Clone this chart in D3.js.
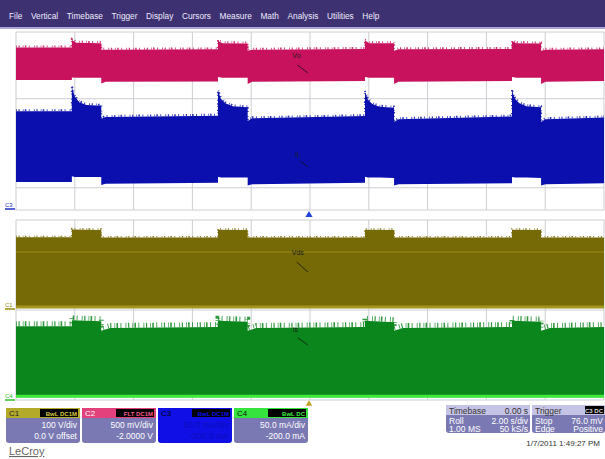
<!DOCTYPE html>
<html>
<head>
<meta charset="utf-8">
<script src="https://cdn.jsdelivr.net/npm/d3@7"></script>
<style>
  body { margin: 0; background: #fff; }
  svg { display: block; font-family: "Liberation Sans", Arial, sans-serif; }
</style>
</head>
<body>
<svg id="scope" width="605" height="459"></svg>
<script>
const menuItems = ['File', 'Vertical', 'Timebase', 'Trigger', 'Display', 'Cursors', 'Measure', 'Math', 'Analysis', 'Utilities', 'Help'];

// timebase 2.00 s/div, 10 divisions, trigger at 0
const timeTicks = [-10, -8, -6, -4, -2, 0, 2, 4, 6, 8, 10];
const divTicks = [-4, -3, -2, -1, 0, 1, 2, 3, 4];

// C2 (red) volts
const c2T  = [-10, -8.1, -8.1, -7.95, -7.1, -7.1, -6.95, -3.13, -3.13, -2.98, -2.12, -2.12, -1.97, 1.87, 1.87, 2.02, 2.86, 2.86, 3.01, 6.87, 6.87, 7.02, 7.86, 7.86, 8.01, 10];
const c2Hi = [3.65, 3.65, 3.82, 3.76, 3.75, 3.60, 3.60, 3.61, 3.80, 3.75, 3.74, 3.58, 3.60, 3.62, 3.81, 3.75, 3.75, 3.58, 3.61, 3.62, 3.80, 3.75, 3.74, 3.58, 3.60, 3.61];
const c2Lo = [2.92, 2.92, 2.98, 2.97, 2.97, 2.84, 2.88, 2.89, 2.99, 2.97, 2.97, 2.83, 2.88, 2.90, 2.99, 2.97, 2.97, 2.83, 2.88, 2.90, 2.99, 2.97, 2.97, 2.83, 2.88, 2.90];

// C3 (blue) mA
const c3T  = [-10, -8.1, -8.1, -8.0, -7.85, -7.6, -7.1, -7.1, -6.95, -3.13, -3.13, -3.03, -2.88, -2.63, -2.12, -2.12, -1.97, 1.87, 1.87, 1.97, 2.12, 2.37, 2.86, 2.86, 3.01, 6.87, 6.87, 6.97, 7.12, 7.37, 7.86, 7.86, 8.01, 10];
const c3Hi = [222, 222, 276, 255, 242, 236, 234, 205, 209, 212, 268, 250, 240, 233, 231, 200, 206, 211, 265, 248, 238, 232, 230, 198, 204, 210, 268, 250, 240, 233, 231, 198, 204, 208];
const c3Lo = [63, 63, 76, 74, 74, 74, 74, 56, 59, 61, 75, 73, 73, 73, 73, 55, 58, 61, 75, 73, 73, 73, 72, 55, 58, 60, 74, 73, 73, 73, 72, 55, 58, 60];

// C1 (olive) volts
const c1T  = [-10, -8.1, -8.1, -7.1, -7.1, -3.13, -3.13, -2.12, -2.12, 1.87, 1.87, 2.86, 2.86, 6.87, 6.87, 7.86, 7.86, 10];
const c1Hi = [323, 323, 358, 356, 322, 322, 357, 356, 322, 322, 357, 356, 322, 322, 357, 356, 322, 322];
const c1Lo = [9, 9, 9, 9, 9, 9, 9, 9, 9, 9, 9, 9, 9, 9, 9, 9, 9, 9];
const c1Dense = 258;

// C4 (green) mA
const c4T  = [-10, -8.1, -8.1, -7.1, -7.1, -6.8, -3.13, -3.13, -2.12, -2.12, -1.82, 1.87, 1.87, 2.86, 2.86, 3.16, 6.87, 6.87, 7.86, 7.86, 8.16, 10];
const c4Hi = [164, 164, 177, 175, 154, 160, 162, 176, 174, 154, 160, 162, 176, 173, 154, 160, 162, 176, 174, 154, 160, 162];
const c4Lo = [6, 6, 6, 6, 6, 6, 6, 6, 6, 6, 6, 6, 6, 6, 6, 6, 6, 6, 6, 6, 6, 6];

const chanNames = ['C1', 'C2', 'C3', 'C4'];
const chanBadge = ['BwL DC1M', 'FLT DC1M', 'BwL DC1M', 'BwL DC'];
const chanScale = ['100 V/div', '500 mV/div', '50.0 mA/div', '50.0 mA/div'];
const chanOffset = ['0.0 V offset', '-2.0000 V', '-200.0 mA', '-200.0 mA'];

const tbLeft = ['Roll', '1.00 MS'];
const tbRight = ['2.00 s/div', '50 kS/s'];
const trLeft = ['Stop', 'Edge'];
const trRight = ['76.0 mV', 'Positive'];

const svg = d3.select('#scope');

// ---- menu bar
svg.append('rect').attr('x', 0).attr('y', 0).attr('width', 605).attr('height', 27).attr('fill', '#3d3172');
svg.append('rect').attr('x', 0).attr('y', 27).attr('width', 605).attr('height', 2).attr('fill', '#aba6d6');
let mx = 9;
menuItems.forEach(m => {
  const t = svg.append('text').attr('x', mx).attr('y', 18.5).attr('fill', '#eeecfb')
    .attr('font-size', 8.3).text(m);
  mx += t.node().getComputedTextLength() + 8.6;
});

// ---- scales
const x = d3.scaleLinear().domain([-10, 10]).range([16, 604]);
const topGrid = { top: 32, bottom: 210 };
const botGrid = { top: 220, bottom: 400 };
const yTopDiv = d3.scaleLinear().domain([-4, 4]).range([topGrid.bottom, topGrid.top]);
const yBotDiv = d3.scaleLinear().domain([-4, 4]).range([botGrid.bottom, botGrid.top]);
const yC2 = d3.scaleLinear().domain([0, 4]).range([topGrid.bottom, topGrid.top]);
const yC3 = d3.scaleLinear().domain([0, 400]).range([topGrid.bottom, topGrid.top]);
const yC1 = d3.scaleLinear().domain([-400, 400]).range([botGrid.bottom, botGrid.top]);
const yC4 = d3.scaleLinear().domain([0, 400]).range([botGrid.bottom, botGrid.top]);

// ---- grids
[[topGrid, yTopDiv], [botGrid, yBotDiv]].forEach(([g, ys]) => {
  const grid = svg.append('g');
  grid.selectAll('.v').data(timeTicks).join('line')
    .attr('x1', d => x(d)).attr('x2', d => x(d)).attr('y1', g.top).attr('y2', g.bottom)
    .attr('stroke', '#cdcdd3').attr('stroke-width', 1);
  grid.selectAll('.h').data(divTicks).join('line')
    .attr('x1', x(-10)).attr('x2', x(10)).attr('y1', d => ys(d)).attr('y2', d => ys(d))
    .attr('stroke', '#cdcdd3').attr('stroke-width', 1);
});

// ---- traces (filled envelope, ragged top edge)
const drawTrace = (T, hi, lo, ys, color, fuzz) => {
  const pts = T.map((t, i) => ({ t, hi: hi[i], lo: lo[i] }));
  const area = d3.area().x(d => x(d.t)).y0(d => ys(d.lo)).y1(d => ys(d.hi));
  const edge = d3.line().x(d => x(d.t)).y(d => ys(d.hi));
  const g = svg.append('g');
  g.append('path').attr('d', area(pts)).attr('fill', color);
  g.append('path').attr('d', edge(pts)).attr('fill', 'none').attr('stroke', color)
    .attr('stroke-width', fuzz).attr('stroke-dasharray', '0.8 1.7 1.2 3.1 0.7 1.3 1.6 2.4 0.9 4.2')
    .attr('opacity', 0.85)
    .attr('transform', `translate(0,${-fuzz / 2})`);
};

drawTrace(c2T, c2Hi, c2Lo, yC2, '#c8125e', 2);
drawTrace(c3T, c3Hi, c3Lo, yC3, '#0a0fae', 2);
drawTrace(c1T, c1Hi, c1Lo, yC1, '#766a06', 1.6);
drawTrace(c4T, c4Hi, c4Lo, yC4, '#0a861c', 5);

// dense band inside C1 and bright baselines
svg.append('line').attr('x1', x(-10)).attr('x2', x(10)).attr('y1', yC1(c1Dense)).attr('y2', yC1(c1Dense))
  .attr('stroke', '#948616').attr('stroke-width', 2).attr('opacity', 0.6);
svg.append('line').attr('x1', x(-10)).attr('x2', x(10)).attr('y1', yC1(c1Lo[0]) - 1).attr('y2', yC1(c1Lo[0]) - 1)
  .attr('stroke', '#a3961c').attr('stroke-width', 3);
svg.append('line').attr('x1', x(-10)).attr('x2', x(10)).attr('y1', yC4(c4Lo[0]) - 1).attr('y2', yC4(c4Lo[0]) - 1)
  .attr('stroke', '#3fe83a').attr('stroke-width', 3);

// ---- trace annotations
const notes = [
  { txt: 'Vo', t: -0.6, v: 3.42, t2: -0.07, v2: 3.08, ys: yC2, line: 3.26 },
  { txt: 'iL', t: -0.5, v: 119, t2: -0.07, v2: 97, ys: yC3, line: 110 },
  { txt: 'Vds', t: -0.62, v: 244, t2: -0.07, v2: 169, ys: yC1, line: 213 },
  { txt: 'is', t: -0.58, v: 151, t2: -0.07, v2: 122, ys: yC4, line: 138 }
];
notes.forEach(n => {
  svg.append('text').attr('x', x(n.t)).attr('y', n.ys(n.v)).attr('font-size', 7)
    .attr('fill', '#1a1a1a').text(n.txt);
  svg.append('line').attr('x1', x(n.t) + 5).attr('y1', n.ys(n.line))
    .attr('x2', x(n.t2)).attr('y2', n.ys(n.v2)).attr('stroke', '#111').attr('stroke-width', 0.8);
});

// ---- ground markers and trigger arrows
const marker = (label, yPos, color) => {
  svg.append('text').attr('x', 5).attr('y', yPos).attr('font-size', 6).attr('fill', color).text(label);
  svg.append('line').attr('x1', 5).attr('x2', 15).attr('y1', yPos + 2).attr('y2', yPos + 2)
    .attr('stroke', color).attr('stroke-width', 1.5);
};
marker('C3', yC3(0) - 3, '#2030c0');
marker('C1', yC1(0) - 3, '#9a8c10');
marker('C4', yC4(0) - 2, '#30c030');

svg.append('path').attr('d', d3.symbol(d3.symbolTriangle, 22)())
  .attr('transform', `translate(${x(0) - 1},215)`).attr('fill', '#2040e0');
svg.append('path').attr('d', d3.symbol(d3.symbolTriangle, 18)())
  .attr('transform', `translate(${x(0) - 1},404)`).attr('fill', '#c0a020');

// ---- channel descriptor boxes
const headColor = ['#b4aa2a', '#e2417c', '#1010e6', '#36e23e'];
const headText = ['#222', '#fff', '#000', '#111'];
const badgeText = ['#d8cc40', '#ff5a90', '#1010e6', '#40f048'];
const bodyColor = ['#7a79b3', '#7a79b3', '#1010e6', '#7a79b3'];
const bodyText = ['#fff', '#fff', '#0b0bb8', '#fff'];

chanNames.forEach((c, i) => {
  const bx = 6 + i * 76, by = 408, bw = 74, bh = 35;
  const g = svg.append('g');
  g.append('rect').attr('x', bx).attr('y', by).attr('width', bw).attr('height', bh)
    .attr('rx', 3).attr('fill', bodyColor[i]);
  g.append('rect').attr('x', bx).attr('y', by).attr('width', bw).attr('height', 10)
    .attr('fill', headColor[i]);
  g.append('text').attr('x', bx + 3).attr('y', by + 8).attr('font-size', 8).attr('fill', headText[i]).text(c);
  g.append('rect').attr('x', bx + 34).attr('y', by + 1).attr('width', bw - 36).attr('height', 8).attr('fill', '#000');
  g.append('text').attr('x', bx + bw - 3).attr('y', by + 7.5).attr('text-anchor', 'end')
    .attr('font-size', 6).attr('font-weight', 'bold').attr('fill', badgeText[i]).text(chanBadge[i]);
  g.append('text').attr('x', bx + bw - 3).attr('y', by + 20).attr('text-anchor', 'end')
    .attr('font-size', 8.5).attr('fill', bodyText[i]).text(chanScale[i]);
  g.append('text').attr('x', bx + bw - 3).attr('y', by + 31).attr('text-anchor', 'end')
    .attr('font-size', 8.5).attr('fill', bodyText[i]).text(chanOffset[i]);
});

// ---- timebase / trigger boxes
const infoBox = (bx, bw, title, titleRight, left, right, badge) => {
  const by = 405, bh = 28;
  const g = svg.append('g');
  g.append('rect').attr('x', bx).attr('y', by).attr('width', bw).attr('height', bh).attr('rx', 3).attr('fill', '#7a79b3');
  g.append('rect').attr('x', bx).attr('y', by).attr('width', bw).attr('height', 10).attr('fill', '#c6c4e4');
  g.append('text').attr('x', bx + 3).attr('y', by + 8.5).attr('font-size', 8.5).attr('fill', '#333').text(title);
  if (badge) {
    g.append('rect').attr('x', bx + bw - 20).attr('y', by + 1).attr('width', 19).attr('height', 8).attr('fill', '#000');
    g.append('text').attr('x', bx + bw - 2).attr('y', by + 7.5).attr('text-anchor', 'end')
      .attr('font-size', 6).attr('font-weight', 'bold').attr('fill', '#ddd').text(titleRight);
  } else {
    g.append('text').attr('x', bx + bw - 2).attr('y', by + 8.5).attr('text-anchor', 'end')
      .attr('font-size', 8.5).attr('fill', '#333').text(titleRight);
  }
  left.forEach((s, k) => {
    g.append('text').attr('x', bx + 3).attr('y', by + 18.5 + k * 8.5).attr('font-size', 8.5).attr('fill', '#fff').text(s);
    g.append('text').attr('x', bx + bw - 2).attr('y', by + 18.5 + k * 8.5).attr('text-anchor', 'end')
      .attr('font-size', 8.5).attr('fill', '#fff').text(right[k]);
  });
};
infoBox(446, 84, 'Timebase', '0.00 s', tbLeft, tbRight, false);
infoBox(532, 73, 'Trigger', 'C3 DC', trLeft, trRight, true);

svg.append('text').attr('x', 600).attr('y', 446).attr('text-anchor', 'end')
  .attr('font-size', 8).attr('fill', '#333').text('1/7/2011 1:49:27 PM');
svg.append('text').attr('x', 9).attr('y', 455).attr('font-size', 11).attr('fill', '#666')
  .attr('text-decoration', 'underline').text('LeCroy');
</script>
</body>
</html>
